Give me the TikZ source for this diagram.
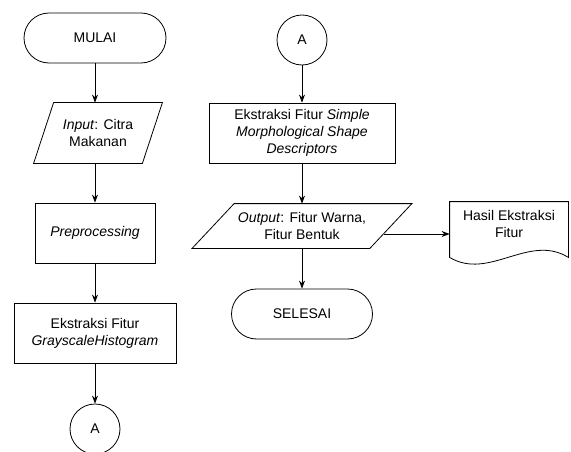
\documentclass[tikz,border=0pt]{standalone}
\usepackage{fontspec}
\setmainfont{Liberation Sans}
\usetikzlibrary{arrows.meta}

\begin{document}
\begin{tikzpicture}[x=1pt,y=-1pt,line width=0.8pt,>={Stealth[length=8pt,width=6pt]}]
  \tikzset{box/.style = {draw, align=center, inner sep=2pt, font=\fontsize{14pt}{17pt}\selectfont}}
  \tikzset{terminal/.style = {box, rounded corners=25pt, minimum width=142pt, minimum height=50pt}}
  \tikzset{process/.style = {box, minimum height=60pt}}
  \tikzset{io/.style = {box, draw=none}}
  \tikzset{connector/.style = {box, circle, minimum size=50pt, inner sep=0pt}}

\useasboundingbox (0,0) rectangle (571,452);

% left column
\node[terminal] (mulai) at (95,38) {MULAI};
\node[io, minimum width=108pt, minimum height=60pt] (input) at (98,133) {\textit{Input}: Citra\\Makanan};
\draw ([xshift=-10pt]input.south west) -- ([xshift=10pt]input.north west)
  -- ([xshift=10pt]input.north east) -- ([xshift=-10pt]input.south east) -- cycle;
\node[process, minimum width=120pt] (pre) at (95,233) {\textit{Preprocessing}};
\node[process, minimum width=162pt] (gray) at (95,333) {Ekstraksi Fitur\\\textit{GrayscaleHistogram}};
\node[connector] (a1) at (95,429) {A};

% right column
\node[connector] (a2) at (302,40) {A};
\node[process, minimum width=186pt] (smsd) at (302,133) {Ekstraksi Fitur \textit{Simple}\\\textit{Morphological Shape}\\\textit{Descriptors}};
\node[io, minimum width=177pt, minimum height=44pt] (output) at (302,226) {\textit{Output}: Fitur Warna,\\Fitur Bentuk};
\draw ([xshift=-21pt]output.south west) -- ([xshift=21pt]output.north west)
  -- ([xshift=21pt]output.north east) -- ([xshift=-21pt]output.south east) -- cycle;
\node[terminal, minimum width=141pt] (selesai) at (302,314) {SELESAI};

% hasil
\node[box, draw=none, minimum width=118pt, minimum height=44pt] (hasil) at (509,224) {Hasil Ekstraksi\\Fitur};
\draw (hasil.north west) -- (hasil.north east) -- ([yshift=-11pt]hasil.south east)
  .. controls (529,233) and (489,281) .. ([yshift=-11pt]hasil.south west) -- cycle;

    \path[->] (mulai) edge (mulai |- input.north);
    \path[->] (mulai |- input.south) edge (pre);
    \path[->] (pre) edge (gray);
    \path[->] (gray) edge (a1);

    \path[->] (a2) edge (smsd);
    \path[->] (smsd) edge (output);
    \path[->] (output) edge (selesai);
    \path[->] ([xshift=-7pt,yshift=-8pt]output.east) edge ([yshift=-10pt]hasil.west);

\end{tikzpicture}
\end{document}
